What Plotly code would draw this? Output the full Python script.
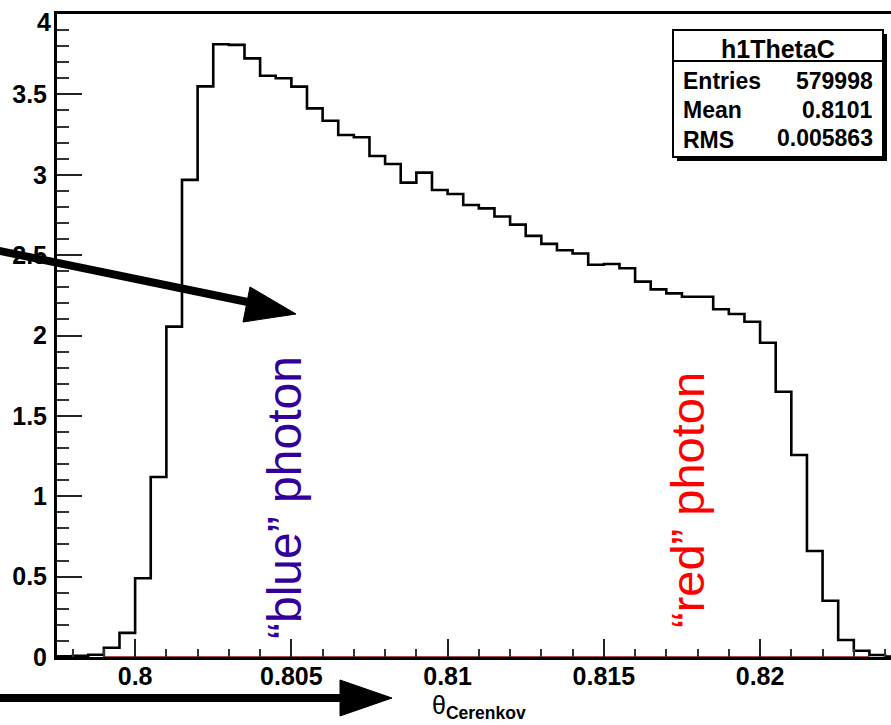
import plotly.graph_objects as go

# ---------------- data ----------------
bin_width = 0.0005
first_edge = 0.7975
counts = [0.004, 0.008, 0.014, 0.058, 0.150, 0.49, 1.12, 2.055, 2.968, 3.55,
          3.812, 3.808, 3.724, 3.616, 3.600, 3.548, 3.413, 3.336, 3.247, 3.233,
          3.117, 3.067, 2.951, 3.013, 2.905, 2.880, 2.812, 2.791, 2.74, 2.69,
          2.62, 2.57, 2.53, 2.51, 2.44, 2.445, 2.418, 2.335, 2.287, 2.262,
          2.241, 2.241, 2.163, 2.134, 2.086, 1.955, 1.650, 1.257, 0.659, 0.350,
          0.106, 0.039, 0.012, 0.003]
x_tickvals = [0.8, 0.805, 0.81, 0.815, 0.82]
x_ticktext = ["0.8", "0.805", "0.81", "0.815", "0.82"]
y_tickvals = [0, 0.5, 1, 1.5, 2, 2.5, 3, 3.5, 4]
y_ticktext = ["0", "0.5", "1", "1.5", "2", "2.5", "3", "3.5", "4"]
stats_title = "h1ThetaC"
stats_names = ["Entries", "Mean", "RMS"]
stats_values = ["579998", "0.8101", "0.005863"]
x_range = [0.7975, 0.82419]
y_range = [0, 4]

# ---------------- geometry ----------------
W, H = 891, 725
L, R, T, B = 57, 0, 14, 68
PW = W - L - R
PH = H - T - B


def px(x):
    return (x - L) / PW


def py(y):
    return (H - B - y) / PH


edges = [first_edge + i * bin_width for i in range(len(counts) + 1)]
xs = [first_edge]
ys = [0]
for i, c in enumerate(counts):
    xs += [edges[i], edges[i + 1]]
    ys += [c, c]

fig = go.Figure()
fig.add_trace(go.Scatter(x=[0.799, 0.8235], y=[0, 0], mode="lines",
                         line=dict(color="#8b1010", width=1.5),
                         hoverinfo="skip", showlegend=False))
fig.add_trace(go.Scatter(x=xs, y=ys, mode="lines",
                         line=dict(color="black", width=2.6),
                         showlegend=False))

font_family = "Liberation Sans, Arial, Helvetica, sans-serif"
tfont = dict(family=font_family, size=25, color="black", weight="bold")

fig.update_layout(
    width=W, height=H,
    margin=dict(l=L, r=R, t=T, b=B, pad=0),
    paper_bgcolor="white", plot_bgcolor="white",
    showlegend=False,
    xaxis=dict(range=x_range, showgrid=False, zeroline=False,
               showline=True, linecolor="black", linewidth=3, mirror=True,
               ticks="inside", ticklen=18, tickwidth=1.5, tickcolor="#222",
               tickvals=x_tickvals, ticktext=x_ticktext,
               ticklabelstandoff=-5,
               tickfont=tfont,
               minor=dict(dtick=0.001, tick0=0.8, ticks="inside", ticklen=8,
                          tickwidth=1.5, tickcolor="#333", showgrid=False)),
    yaxis=dict(range=y_range, showgrid=False, zeroline=False,
               showline=True, linecolor="black", linewidth=3, mirror=False,
               ticks="inside", ticklen=25, tickwidth=1.5, tickcolor="#222",
               # top label "4" is drawn separately, shifted down inside the canvas
               tickvals=y_tickvals[:-1], ticktext=y_ticktext[:-1],
               ticklabelstandoff=2,
               tickfont=tfont,
               minor=dict(dtick=0.1, tick0=0, ticks="inside", ticklen=12,
                          tickwidth=1.5, tickcolor="#333", showgrid=False)),
)

shapes = []
# stats box shadow + box
shapes.append(dict(type="rect", xref="paper", yref="paper",
                   x0=px(677), x1=px(887), y0=py(34), y1=py(161),
                   fillcolor="black", line=dict(width=0), layer="above"))
shapes.append(dict(type="rect", xref="paper", yref="paper",
                   x0=px(673), x1=px(883), y0=py(30), y1=py(157),
                   fillcolor="white", line=dict(color="black", width=2), layer="above"))
shapes.append(dict(type="line", xref="paper", yref="paper",
                   x0=px(673), x1=px(883), y0=py(61), y1=py(61),
                   line=dict(color="black", width=2), layer="above"))

# arrow 1 (diagonal)
shapes.append(dict(type="line", xref="paper", yref="paper",
                   x0=px(-5), y0=py(250), x1=px(250), y1=py(302.5),
                   line=dict(color="black", width=8), layer="above"))
shapes.append(dict(type="path", xref="paper", yref="paper",
                   path=f"M {px(296)},{py(314)} L {px(250)},{py(287)} L {px(243)},{py(322)} Z",
                   fillcolor="black", line=dict(color="black", width=1), layer="above"))
# arrow 2 (horizontal)
shapes.append(dict(type="line", xref="paper", yref="paper",
                   x0=px(-5), y0=py(698), x1=px(345), y1=py(698),
                   line=dict(color="black", width=8), layer="above"))
shapes.append(dict(type="path", xref="paper", yref="paper",
                   path=f"M {px(392)},{py(698)} L {px(340)},{py(680)} L {px(340)},{py(716)} Z",
                   fillcolor="black", line=dict(color="black", width=1), layer="above"))
fig.update_layout(shapes=shapes)

ann = []
# top y tick label
ann.append(dict(text=y_ticktext[-1], xref="paper", yref="paper", x=px(53), y=py(22),
                xanchor="right", yanchor="middle", showarrow=False, font=tfont))

sfont = dict(family=font_family, size=23, color="black", weight="bold")
ann.append(dict(text=stats_title, xref="paper", yref="paper", x=px(778), y=py(49),
                xanchor="center", yanchor="middle", showarrow=False,
                font=dict(family=font_family, size=25, color="black", weight="bold")))
row_y = [81, 110, 140]
for name, val, yy in zip(stats_names, stats_values, row_y):
    ann.append(dict(text=name, xref="paper", yref="paper", x=px(681), y=py(yy),
                    xanchor="left", yanchor="middle", showarrow=False, font=sfont))
    ann.append(dict(text=val, xref="paper", yref="paper", x=px(875), y=py(yy - 2 if name == "RMS" else yy),
                    xanchor="right", yanchor="middle", showarrow=False, font=sfont))

# axis title
ann.append(dict(text="θ<sub><b>Cerenkov</b></sub>", xref="paper", yref="paper",
                x=px(430), y=py(707), xanchor="left", yanchor="middle", showarrow=False,
                font=dict(family=font_family, size=25, color="black")))

# colored labels
ann.append(dict(text="“blue” photon", xref="paper", yref="paper",
                x=px(284), y=py(498), xanchor="center", yanchor="middle",
                textangle=-90, showarrow=False,
                font=dict(family=font_family, size=48, color="#330099")))
ann.append(dict(text="“red” photon", xref="paper", yref="paper",
                x=px(687), y=py(500), xanchor="center", yanchor="middle",
                textangle=-90, showarrow=False,
                font=dict(family=font_family, size=47, color="#ff0000")))
fig.update_layout(annotations=ann)

fig.write_html("out.html")
